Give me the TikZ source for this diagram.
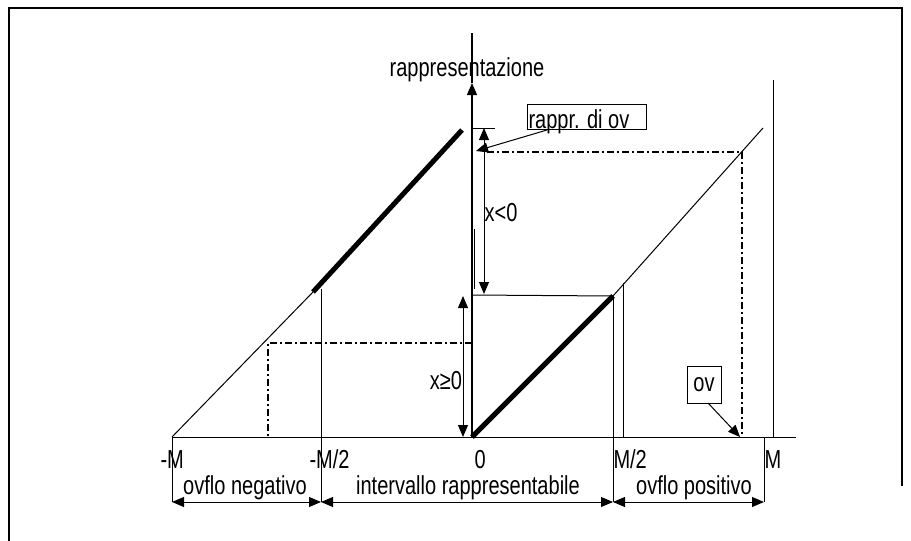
\documentclass[tikz,border=0pt]{standalone}
\usepackage{fontspec}
\setmainfont{Liberation Sans}[FakeStretch=0.77]
\usetikzlibrary{arrows.meta}
\begin{document}
\begin{tikzpicture}[x=1pt,y=-1pt,line width=1pt,
  >={Triangle[length=12pt,width=10pt]},
  thickline/.style={line width=5pt},
  dashdot/.style={line width=1.2pt,dash pattern=on 7pt off 3pt on 2pt off 3pt},
  lbl/.style={inner sep=0pt,font=\fontsize{26}{30}\selectfont},
  boxed/.style={draw,line width=1pt,inner sep=0pt}]
\useasboundingbox (0,0) rectangle (911,541);
% frame
\draw[line width=2pt] (9,541) -- (9,8) -- (902,8) -- (902,486);
% key points
\coordinate (mM) at (172,437);
\coordinate (mMh) at (321,437);
\coordinate (O) at (472,437);
\coordinate (Mh) at (613,437);
\coordinate (M) at (764,437);
\coordinate (xend) at (796,437);
\coordinate (ytip) at (472,83);
\coordinate (ytop) at (472,33);
% axes
\draw (mM) -- (xend);
\draw[line width=1.2pt,->] (O) -- (ytip);
\draw[line width=1.2pt] (ytip) -- (ytop);
\coordinate (s1) at (474.5,229); \coordinate (s2) at (474.5,289);
\draw (s1) -- (s2);
% left line
\coordinate (L1) at (313,292);
\coordinate (L2) at (462,130);
\draw (mM) -- (L1);
\draw[thickline] (L1) -- (L2);
\coordinate (mMhtop) at (321,289);
\coordinate (mMhbot) at (321,502);
\draw (mMhtop) -- (mMhbot);
\coordinate (mMbot) at (172,502);
\draw (mM) -- (mMbot);
% left dash-dot
\coordinate (dl1) at (268,343);
\coordinate (dl2) at (472,343);
\coordinate (dl3) at (268,437);
\draw[dashdot] (dl2) -- (dl1) -- (dl3);
% right lines
\coordinate (R1) at (613,296);
\coordinate (R2) at (763,128);
\draw[thickline] (O) -- (R1);
\draw (R1) -- (R2);
\coordinate (sq) at (472,295);
\draw (sq) -- (R1);
\coordinate (Mhbot) at (613,502);
\draw (R1) -- (Mhbot);
\coordinate (v1) at (623,283); \coordinate (v2) at (623,437);
\draw (v1) -- (v2);
\coordinate (t1) at (773,80); \coordinate (t2) at (773,437);
\draw (t1) -- (t2);
\coordinate (Mbot) at (764,502);
\draw (M) -- (Mbot);
% right dash-dot
\coordinate (dr1) at (487,152);
\coordinate (dr2) at (742,152);
\coordinate (dr3) at (742,437);
\draw[dashdot] (dr1) -- (dr2) -- (dr3);
% top tick
\coordinate (tk1) at (472,128); \coordinate (tk2) at (495,128);
\draw (tk1) -- (tk2);
% x<0 and x>=0 arrows
\coordinate (a1) at (484,128); \coordinate (a2) at (484,294);
\draw[<->] (a1) -- (a2);
\coordinate (b1) at (463,296); \coordinate (b2) at (463,437);
\draw[<->] (b1) -- (b2);
\node[lbl] (xneg) at (501,213) {x<0};
\node[lbl] (xpos) at (446,381) {x≥0};
% y label
\node[lbl] (ylab) at (467,70) {rappresentazione};
% rappr. di ov box
\node[boxed,minimum width=119pt,minimum height=25pt,anchor=north west] (rbox) at (527,104) {};
\node[lbl,anchor=base west] (rtext) at (528,128) {rappr. di ov};
\coordinate (ra) at (547,130); \coordinate (rt) at (476,151);
\draw[->] (ra) -- (rt);
% ov box
\node[boxed,minimum width=34pt,minimum height=37pt,lbl,draw] (ovbox) at (704,384.5) {ov};
\coordinate (oa) at (708,403); \coordinate (ot) at (740,437);
\draw[->] (oa) -- (ot);
% tick labels
\node[lbl,anchor=base west] (lmM) at (160,468) {-M};
\node[lbl,anchor=base west] (lmMh) at (309,468) {-M/2};
\node[lbl,anchor=base west] (lO) at (474,468) {0};
\node[lbl,anchor=base west] (lMh) at (613,468) {M/2};
\node[lbl,anchor=base west] (lM) at (764,468) {M};
% interval labels
\node[lbl,anchor=base] (neg) at (245,494) {ovflo negativo};
\node[lbl,anchor=base] (mid) at (468,494) {intervallo rappresentabile};
\node[lbl,anchor=base] (pos) at (694,494) {ovflo positivo};
% dimension arrows
\draw[<->] (mMbot) -- (mMhbot);
\draw[<->] (mMhbot) -- (Mhbot);
\draw[<->] (Mhbot) -- (Mbot);
\end{tikzpicture}
\end{document}
